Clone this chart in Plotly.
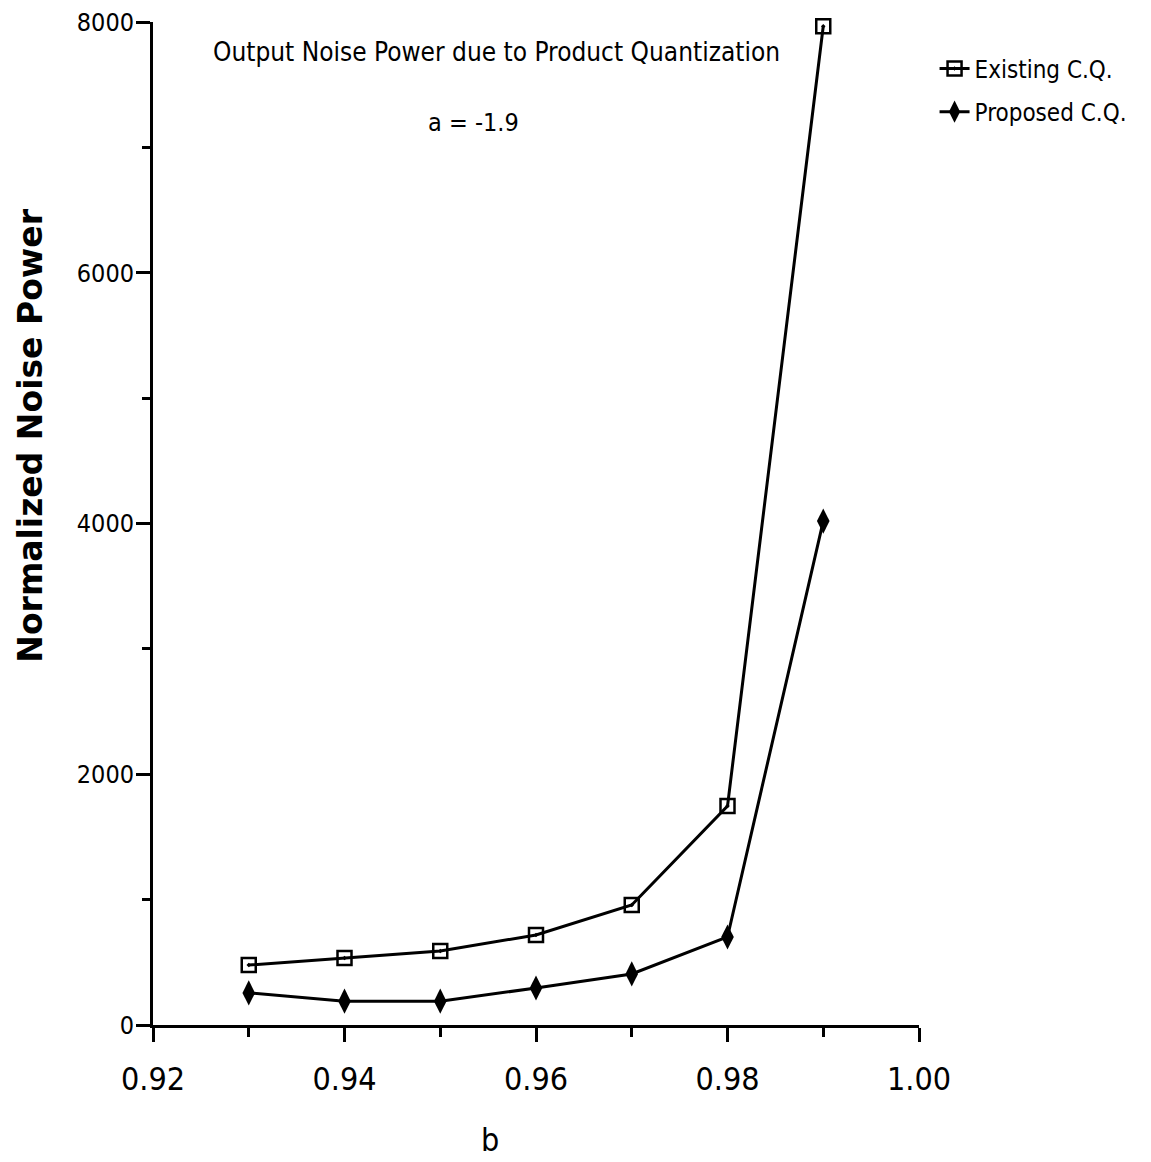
import plotly.graph_objects as go

b_values = [0.93, 0.94, 0.95, 0.96, 0.97, 0.98, 0.99]
existing_cq = [478, 534, 590, 718, 957, 1746, 7966]
proposed_cq = [256, 190, 190, 295, 407, 702, 4019]

x_ticks = [0.92, 0.94, 0.96, 0.98, 1.00]
x_tick_labels = ["0.92", "0.94", "0.96", "0.98", "1.00"]
y_ticks = [0, 2000, 4000, 6000, 8000]
y_tick_labels = ["0", "2000", "4000", "6000", "8000"]

FONT = "DejaVu Sans Condensed, Liberation Sans Narrow, sans-serif"

fig = go.Figure()
fig.add_trace(go.Scatter(
    x=b_values, y=existing_cq, mode="lines+markers", name="Existing C.Q.",
    legendgroup="e", cliponaxis=False,
    line=dict(color="black", width=3),
    marker=dict(symbol="square-open-dot", size=14, color="black", line=dict(width=2.5, color="black")),
))
fig.add_trace(go.Scatter(
    x=b_values, y=proposed_cq, mode="lines+markers", name="Proposed C.Q.",
    legendgroup="p", cliponaxis=False,
    line=dict(color="black", width=3),
    marker=dict(symbol="diamond-tall", size=18, color="black"),
))

fig.update_layout(
    width=1151, height=1162,
    margin=dict(l=145, r=240, t=14, b=145, autoexpand=False),
    paper_bgcolor="white", plot_bgcolor="white",
    font=dict(family=FONT, color="black", size=26),
    showlegend=True,
    legend=dict(xref="container", yref="container", x=0.805, y=0.967,
                xanchor="left", yanchor="top",
                font=dict(family=FONT, size=24), bgcolor="rgba(0,0,0,0)",
                itemwidth=30, tracegroupgap=9, traceorder="grouped"),
    xaxis=dict(range=[0.92, 1.00], tickvals=x_ticks, ticktext=x_tick_labels,
               showgrid=False, zeroline=False, showline=True, linecolor="black", linewidth=3,
               ticks="outside", ticklen=14, tickwidth=3, tickcolor="black",
               minor=dict(dtick=0.01, ticks="outside", ticklen=9, tickwidth=2.5, tickcolor="black"),
               tickfont=dict(family=FONT, size=32), ticklabelstandoff=10, automargin=False,
               ticklabeloverflow="allow"),
    yaxis=dict(range=[0, 8000], tickvals=y_ticks, ticktext=y_tick_labels,
               showgrid=False, zeroline=False, showline=True, linecolor="black", linewidth=3,
               ticks="outside", ticklen=14, tickwidth=3, tickcolor="black",
               minor=dict(dtick=1000, ticks="outside", ticklen=8, tickwidth=2.5, tickcolor="black"),
               tickfont=dict(family=FONT, size=25), ticklabelstandoff=-3, automargin=False,
               ticklabeloverflow="allow"),
)

fig.add_annotation(text="Output Noise Power due to Product Quantization",
                   xref="paper", yref="paper", x=0.449, y=0.970, xanchor="center", yanchor="middle",
                   showarrow=False, font=dict(family=FONT, size=26))
fig.add_annotation(text="a = -1.9",
                   xref="paper", yref="paper", x=0.418, y=0.900, xanchor="center", yanchor="middle",
                   showarrow=False, font=dict(family=FONT, size=25))
fig.add_annotation(text="<b>Normalized Noise Power</b>",
                   xref="paper", yref="paper", x=-0.16, y=0.588, xanchor="center", yanchor="middle",
                   textangle=-90, showarrow=False,
                   font=dict(family="DejaVu Sans, sans-serif", size=33))
fig.add_annotation(text="b",
                   xref="paper", yref="paper", x=0.44, y=-0.115, xanchor="center", yanchor="middle",
                   showarrow=False, font=dict(family=FONT, size=32))

fig.write_html("out.html")
